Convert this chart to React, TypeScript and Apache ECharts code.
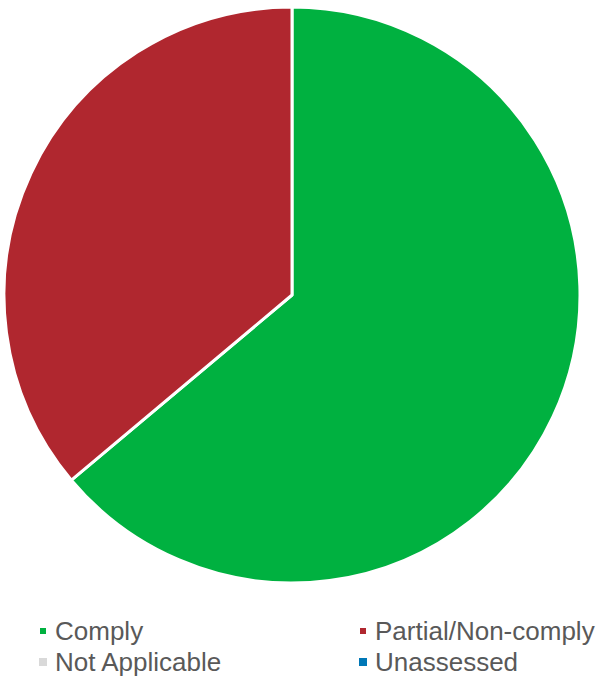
import React, { useEffect, useRef } from "react";
import * as echarts from "echarts";

const categories = ["Comply", "Partial/Non-comply", "Not Applicable", "Unassessed"];
const values = [23, 13, 0, 0];
const colors = ["#00B140", "#B0272F", "#D9D9D9", "#0077B6"];

export default function App() {
  const ref = useRef<HTMLDivElement>(null);
  useEffect(() => {
    document.body.style.margin = "0";
    const chart = echarts.init(ref.current!, null, { renderer: "svg" });
    const data = categories.map((name, i) => ({
      name,
      value: values[i],
      itemStyle: { color: colors[i], borderWidth: values[i] > 0 ? 3 : 0 },
    }));
    const legendCommon = {
      orient: "vertical" as const,
      icon: "rect",
      itemWidth: 8,
      itemHeight: 8,
      itemGap: 5,
      padding: 0,
      top: 618,
      selectedMode: false,
      textStyle: {
        fontSize: 26,
        color: "#595959",
        fontFamily: "Liberation Sans, Arial, sans-serif",
        padding: [0, 0, 0, 3],
      },
    };
    chart.setOption({
      animation: false,
      legend: [
        { ...legendCommon, left: 38, data: [categories[0], categories[2]] },
        { ...legendCommon, left: 358, data: [categories[1], categories[3]] },
      ],
      series: [
        {
          type: "pie",
          center: [292, 295],
          radius: [0, 288],
          startAngle: 90,
          clockwise: true,
          label: { show: false },
          labelLine: { show: false },
          itemStyle: { borderColor: "#ffffff", borderWidth: 3 },
          emphasis: { disabled: true },
          data,
        },
      ],
    });
    return () => chart.dispose();
  }, []);
  return <div ref={ref} style={{ width: 600, height: 679 }} />;
}
